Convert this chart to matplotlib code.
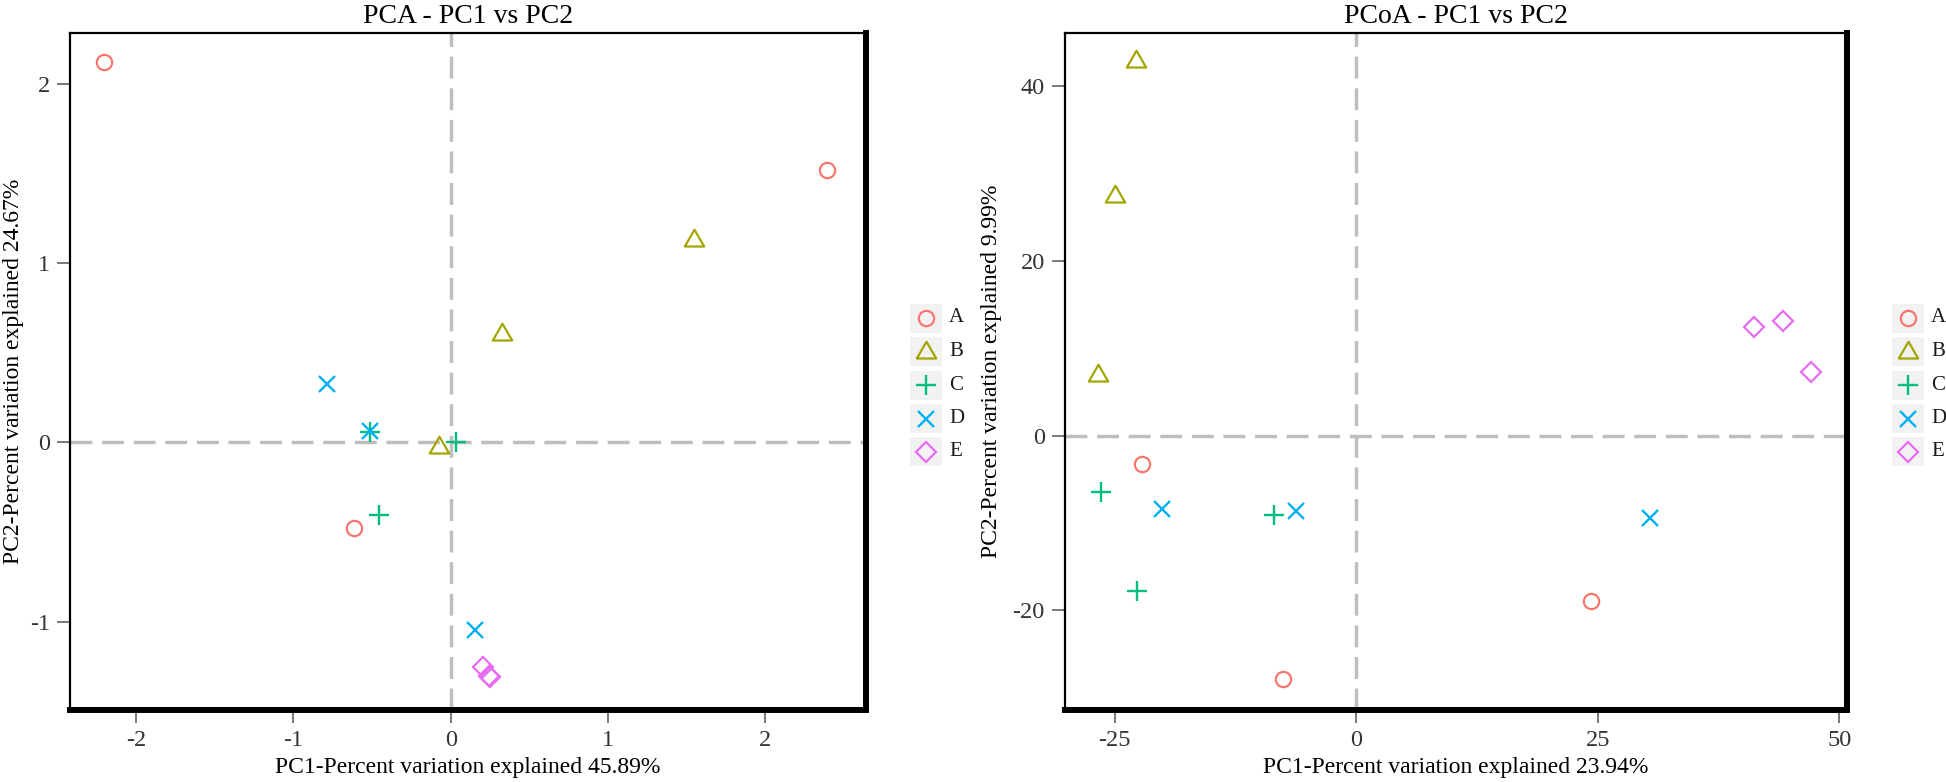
import matplotlib
matplotlib.use("Agg")
import matplotlib.pyplot as plt
from matplotlib.patches import Rectangle
from matplotlib.path import Path

plt.rcParams['font.family'] = ['Liberation Serif', 'DejaVu Serif']

# ---------------- data ----------------
groups = ['A', 'B', 'C', 'D', 'E']
colors = ['#F8766D', '#A3A500', '#00BF7D', '#00B0F6', '#E76BF3']

# PCA coordinates (per group: 3 samples)
pca_pc1 = [[-2.204, 2.393, -0.615],
           [1.545, 0.327, -0.076],
           [0.033, -0.455, -0.516],
           [-0.789, -0.516, 0.153],
           [0.207, 0.247, 0.245]]
pca_pc2 = [[2.122, 1.522, -0.478],
           [1.131, 0.603, -0.028],
           [0.000, -0.403, 0.058],
           [0.325, 0.061, -1.047],
           [-1.256, -1.311, -1.305]]

# PCoA coordinates
pcoa_pc1 = [[-22.2, -7.6, 24.3],
            [-22.8, -25.0, -26.7],
            [-26.4, -22.7, -8.5],
            [-20.1, -6.2, 30.4],
            [41.2, 44.2, 47.1]]
pcoa_pc2 = [[-3.2, -27.8, -18.95],
            [42.9, 27.4, 7.0],
            [-6.4, -17.75, -9.13],
            [-8.4, -8.6, -9.4],
            [12.4, 13.1, 7.25]]

pca_title = 'PCA - PC1 vs PC2'
pca_xlabel = 'PC1-Percent variation explained 45.89%'
pca_ylabel = 'PC2-Percent variation explained 24.67%'
pca_xticks = [-2, -1, 0, 1, 2]
pca_yticks = [-1, 0, 1, 2]

pcoa_title = 'PCoA - PC1 vs PC2'
pcoa_xlabel = 'PC1-Percent variation explained 23.94%'
pcoa_ylabel = 'PC2-Percent variation explained 9.99%'
pcoa_xticks = [-25, 0, 25, 50]
pcoa_yticks = [-20, 0, 20, 40]

# ---------------- styles ----------------
tri = Path([(-1, -0.62), (1, -0.62), (0, 1.11), (-1, -0.62)],
           [Path.MOVETO, Path.LINETO, Path.LINETO, Path.CLOSEPOLY])
markers = ['o', tri, '+', 'x', 'D']
msizes = [11, 15.5, 14, 11, 10]

W, H = 1946, 782
fig = plt.figure(figsize=(W / 100, H / 100), dpi=100)


def px_axes(x0, y0, x1, y1):
    return fig.add_axes([x0 / W, 1 - y1 / H, (x1 - x0) / W, (y1 - y0) / H])


def plot_marker(ax, x, y, m, ms, c):
    if isinstance(m, str) and m in ('+', 'x'):
        ax.plot(x, y, ls='none', marker=m, ms=ms, mew=1.7, color=c, zorder=3)
    else:
        ax.plot(x, y, ls='none', marker=m, ms=ms, mew=1.6, mfc='none', mec=c, zorder=3)


def draw_panel(ax, xs, ys, xlim, ylim, xticks, yticks, title, xlabel, ylabel, ylabel_x):
    ax.axhline(0, color='#BEBEBE', lw=2.5, dashes=(6.3, 2.8), zorder=1)
    ax.axvline(0, color='#BEBEBE', lw=2.5, dashes=(6.3, 2.8), zorder=1)
    for gx, gy, c, m, ms in zip(xs, ys, colors, markers, msizes):
        plot_marker(ax, gx, gy, m, ms, c)
    ax.set_xlim(*xlim)
    ax.set_ylim(*ylim)
    ax.set_xticks(xticks)
    ax.set_yticks(yticks)
    ax.set_xticklabels([str(t) for t in xticks])
    ax.set_yticklabels([str(t) for t in yticks])
    ax.tick_params(direction='out', length=9.5, width=1.1, color='#555555',
                   labelsize=17.5, labelcolor='#333333', pad=5)
    for s in ('left', 'top'):
        ax.spines[s].set_linewidth(1.6)
    for s in ('right', 'bottom'):
        ax.spines[s].set_linewidth(4.3)
    for s in ax.spines.values():
        s.set_color('black')
    ax.set_title(title, fontsize=20, pad=7)
    ax.set_xlabel(xlabel, fontsize=17, labelpad=4)
    ax.set_ylabel(ylabel, fontsize=17)
    ax.yaxis.set_label_coords(ylabel_x, 0.5)


def draw_legend(x0, y0):
    lax = px_axes(x0 - 5, y0 - 25, x0 + 60, y0 + 165)
    lax.set_xlim(x0 - 5, x0 + 60)
    lax.set_ylim(y0 + 165, y0 - 25)
    lax.axis('off')
    step = 33.5
    for i, (g, c, m, ms) in enumerate(zip(groups, colors, markers, msizes)):
        cy = y0 + i * step
        lax.add_patch(Rectangle((x0, cy - 14.5), 32, 29, facecolor='#F2F2F2',
                                edgecolor='none', zorder=1))
        plot_marker(lax, [x0 + 16], [cy], m, ms, c)
        lax.text(x0 + 39, cy, g, fontsize=15, va='center', ha='left', color='#1a1a1a')


ax1 = px_axes(70, 33, 866, 710)
draw_panel(ax1, pca_pc1, pca_pc2, (-2.42, 2.64), (-1.494, 2.286), pca_xticks, pca_yticks,
           pca_title, pca_xlabel, pca_ylabel, -0.058)

ax2 = px_axes(1065, 33, 1847, 710)
draw_panel(ax2, pcoa_pc1, pcoa_pc2, (-30.15, 50.8), (-31.4, 46.1), pcoa_xticks, pcoa_yticks,
           pcoa_title, pcoa_xlabel, pcoa_ylabel, -0.080)

draw_legend(910, 318)
draw_legend(1892, 318)

fig.savefig('out.png', dpi=100)
